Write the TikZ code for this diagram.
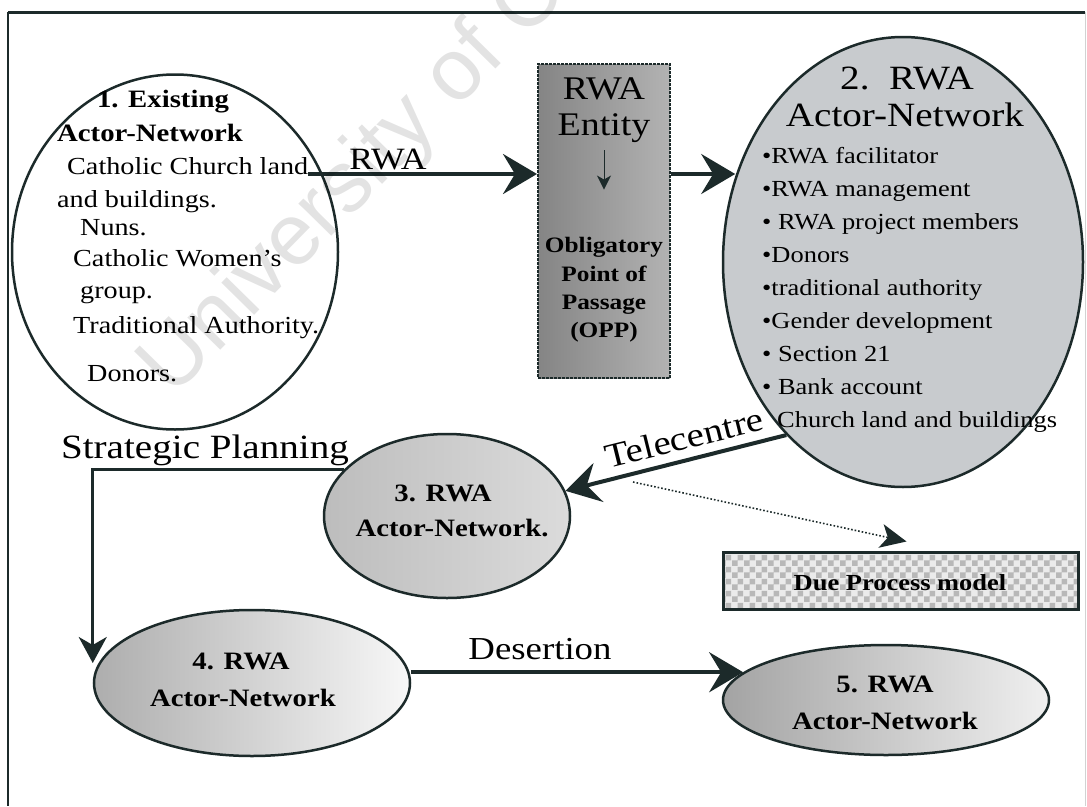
\documentclass[tikz,border=0pt]{standalone}
\usepackage{fontspec}
\setmainfont{Liberation Serif}[FakeStretch=1.15]
\newfontfamily\wmfont{Liberation Sans}
\usetikzlibrary{arrows.meta,shapes.geometric,patterns,calc}

\definecolor{ink}{HTML}{1C2A2A}
\definecolor{netgray}{HTML}{C8CBCE}

% small checker tiles for the model box
\pgfdeclarepatternformonly{smallcheck}{\pgfpointorigin}{\pgfqpoint{12pt}{12pt}}{\pgfqpoint{12pt}{12pt}}{%
  \pgfpathrectangle{\pgfpointorigin}{\pgfqpoint{6pt}{6pt}}%
  \pgfpathrectangle{\pgfqpoint{6pt}{6pt}}{\pgfqpoint{6pt}{6pt}}%
  \pgfusepath{fill}}

\newcommand\fsz[1]{\fontsize{#1}{#1}\selectfont}

\begin{document}
\begin{tikzpicture}[x=1pt,y=-1pt,
  txt/.style={inner sep=0pt, anchor=base, text=black},
  txtw/.style={inner sep=0pt, anchor=base west, text=black},
  oval/.style={ellipse, draw=ink, line width=2.5pt, inner sep=0pt},
  arr/.style={draw=ink, line width=4pt, -{Stealth[length=34pt,width=40pt,inset=12pt]}},
  arrsmall/.style={draw=ink, line width=3pt, -{Stealth[length=26pt,width=28pt,inset=8pt]}},
]
\useasboundingbox (0,0) rectangle (1087,806);
\fill[white] (0,0) rectangle (1087,806);

% page frame
\draw[ink, line width=3pt] (8,12) -- (1085,12);
\draw[ink, line width=2pt] (8,12) -- (8,806);
\draw[gray!35, line width=1pt] (1085,12) -- (1085,806);

% ---- shapes ----
\node[oval, fill=white, minimum width=326pt, minimum height=355pt] (e1) at (175,252) {};
\node[rectangle, draw=ink, line width=2pt, dash pattern=on 3pt off 1pt,
      left color=black!48, right color=black!30,
      minimum width=132pt, minimum height=314pt, inner sep=0pt] (box) at (604,221) {};
\node[oval, fill=netgray, minimum width=360pt, minimum height=450pt] (e2) at (903,262) {};
\node[oval, left color=black!26, right color=black!14,
      minimum width=246pt, minimum height=164pt] (e3) at (447,516) {};
\node[oval, left color=black!32, right color=black!3,
      minimum width=316pt, minimum height=146pt] (e4) at (252,683) {};
\node[oval, left color=black!36, right color=black!6,
      minimum width=326pt, minimum height=110pt] (e5) at (886,700) {};
\node[rectangle, draw=ink, line width=3pt, preaction={fill=black!8},
      pattern=smallcheck, pattern color=black!28,
      minimum width=355pt, minimum height=57pt, inner sep=0pt] (dp) at (900.5,580.5) {};

% ---- texts of network 1 ----
\node[txt, font=\bfseries\fsz{25}] (e1a) at (163,107) {1. Existing};
\node[txtw, font=\bfseries\fsz{25}] (e1b) at (57,141) {Actor-Network};
\node[txtw, font=\fsz{24.5}] (land) at (67,174) {Catholic Church land};
\node[txtw, font=\fsz{24.5}] (e1d) at (57,207) {and buildings.};
\node[txtw, font=\fsz{24.5}] (e1e) at (80,235) {Nuns.};
\node[txtw, font=\fsz{24.5}] (e1f) at (73,266) {Catholic Women's};
\node[txtw, font=\fsz{24.5}] (e1g) at (80,298) {group.};
\node[txtw, font=\fsz{24.5}] (e1h) at (73,333) {Traditional Authority.};
\node[txtw, font=\fsz{24.5}] (e1i) at (87,381) {Donors.};

% ---- texts of the entity box ----
\node[txt, font=\fsz{33}] (boxa) at (604,99) {RWA};
\node[txt, font=\fsz{33}] (ent) at (604,135) {Entity};
\node[txt, font=\bfseries\fsz{22}] (obl) at (604,252) {Obligatory};
\node[txt, font=\bfseries\fsz{22}] (boxc) at (604,281) {Point of};
\node[txt, font=\bfseries\fsz{22}] (boxd) at (604,309) {Passage};
\node[txt, font=\bfseries\fsz{22}] (boxe) at (604,337) {(OPP)};

% ---- texts of network 2 ----
\node[txt, font=\fsz{34}] (e2a) at (907,89) {2.\ \ RWA};
\node[txt, font=\fsz{34}] (e2b) at (905,126) {Actor-Network};
\node[txtw, font=\fsz{23}] (b1) at (762,163) {•RWA facilitator};
\node[txtw, font=\fsz{23}] (b2) at (762,196) {•RWA management};
\node[txtw, font=\fsz{23}] (b3) at (762,229) {• RWA project members};
\node[txtw, font=\fsz{23}] (b4) at (762,262) {•Donors};
\node[txtw, font=\fsz{23}] (b5) at (762,295) {•traditional authority};
\node[txtw, font=\fsz{23}] (b6) at (762,328) {•Gender development};
\node[txtw, font=\fsz{23}] (b7) at (762,361) {• Section 21};
\node[txtw, font=\fsz{23}] (b8) at (762,394) {• Bank account};
\node[txtw, font=\fsz{23}] (b9) at (777,427) {Church land and buildings};

% ---- texts of networks 3, 4, 5 and the model box ----
\node[txt, font=\bfseries\fsz{25}] (e3a) at (443,501) {3. RWA};
\node[txt, font=\bfseries\fsz{25}] (e3b) at (452,536) {Actor-Network.};
\node[txt, font=\bfseries\fsz{25}] (e4a) at (241,669) {4. RWA};
\node[txt, font=\bfseries\fsz{25}] (e4b) at (243,706) {Actor-Network};
\node[txt, font=\bfseries\fsz{25}] (e5a) at (885,692) {5. RWA};
\node[txt, font=\bfseries\fsz{25}] (e5b) at (885,729) {Actor-Network};
\node[txt, font=\bfseries\fsz{23}] (dpt) at (900,590) {Due Process model};

% ---- connector labels ----
\node[txt, font=\fsz{31}] (lrwa) at (388,169) {RWA};
\node[txt, font=\fsz{34}] (lsp) at (205,458) {Strategic Planning};
\node[txt, font=\fsz{32}] (ldes) at (540,659) {Desertion};
\node[inner sep=0pt, anchor=center, rotate=14, font=\fsz{34}] (ltel) at (684,438) {Telecentre};

% ---- connectors ----
\draw[arr] (land.base east) -- (land.base -| box.west);
\draw[arr] (box.east |- land.base) -- (land.base -| e2.153);
\draw[arr] (e2.236) -- (e3.12);
\coordinate (dstart) at (633,482);
\draw[ink, line width=1.6pt, dotted, -{Stealth[length=26pt,width=24pt,inset=7pt]}]
  (dstart) -- ([yshift=9pt, xshift=6pt]dp.north);
\draw[arrsmall] (e3.156) -| ([yshift=20pt]e4.west);
\draw[arr] (e4.east |- e5.169) -- (e5.169);
\draw[ink, line width=1pt, shorten <=8pt, shorten >=47pt,
      -{Stealth[length=14pt,width=14pt,inset=4pt]}] (ent.south) -- (obl.north);

% faint watermark lettering laid over the page
\begin{scope}
  \clip (0,0) rectangle (1087,806);
  \node[inner sep=0pt, anchor=base west, rotate=45.5, text=black, text opacity=0.11,
        font=\wmfont\fsz{87}] (wmark) at (172,399) {University of C};
\end{scope}
\end{tikzpicture}
\end{document}
